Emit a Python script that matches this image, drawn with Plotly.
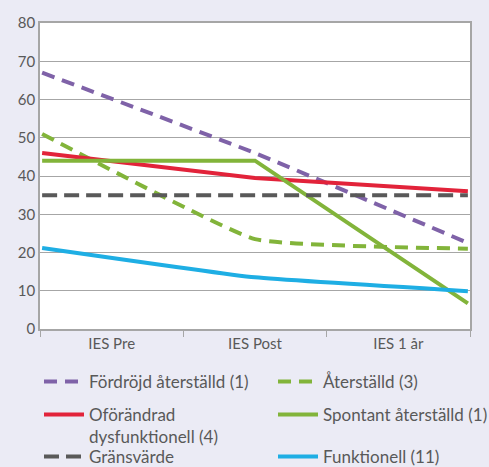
import plotly.graph_objects as go

# Time points and series values (score)
categories = ["IES Pre", "IES Post", "IES 1 år"]

fordrojd = [67, 46, 22.5]          # Fördröjd återställd (1)
aterstalld = [51, 23.5, 21]        # Återställd (3)
oforandrad = [46, 39.5, 36]        # Oförändrad dysfunktionell (4)
spontant = [44, 44, 6.7]           # Spontant återställd (1)
gransvarde = [35, 35, 35]          # Gränsvärde
funktionell = [21.2, 13.5, 9.9]    # Funktionell (11)

y_ticks = [0, 10, 20, 30, 40, 50, 60, 70, 80]

W, H = 489, 467
BG = "#ebebf5"
TEXT = "#595959"
GRID = "#a6a6a6"
FONT = "Lato"

# name, values, colour, dash, shape, legend slot (column, row)
series = [
    ("Fördröjd återställd (1)", fordrojd, "#7f62a8", "13px,8px", "spline", (0, 0)),
    ("Återställd (3)", aterstalld, "#82b43a", "13px,8px", "spline", (1, 0)),
    ("Oförändrad<br>dysfunktionell (4)", oforandrad, "#e2233a", "solid", "linear", (0, 1)),
    ("Spontant återställd (1)", spontant, "#82b43a", "solid", "linear", (1, 1)),
    ("Gränsvärde", gransvarde, "#595959", "15px,7px", "linear", (0, 2)),
    ("Funktionell (11)", funktionell, "#1eaee4", "solid", "spline", (1, 2)),
]

# legend grid (pixels from the top-left of the page)
col_x = [39, 273]
row_top = [364, 397, 439]

fig = go.Figure()

# Invisible trace so the category axis carries the labels
fig.add_trace(go.Scatter(x=categories, y=[None] * len(categories), xaxis="x",
                         showlegend=False, hoverinfo="skip", mode="lines"))

legends = {}
for i, (name, vals, color, dash, shape, (c, r)) in enumerate(series):
    key = "legend" if i == 0 else f"legend{i + 1}"
    fig.add_trace(go.Scatter(
        x=categories, y=vals, name=name, mode="lines", xaxis="x2",
        legend=key,
        line=dict(color=color, width=4, dash=dash, shape=shape, smoothing=0.35),
    ))
    legends[key] = dict(
        x=col_x[c] / W, xanchor="left", xref="container",
        y=1 - row_top[r] / H, yanchor="top", yref="container",
        valign="top", bgcolor="rgba(0,0,0,0)",
        font=dict(size=17, color=TEXT), itemwidth=40,
    )

fig.update_layout(
    width=W, height=H,
    paper_bgcolor=BG, plot_bgcolor="white",
    margin=dict(l=40, r=19, t=23, b=138, autoexpand=False),
    font=dict(family=FONT, size=15, color=TEXT),
    xaxis=dict(
        type="category", categoryarray=categories, range=[-0.5, 2.5],
        tickson="boundaries", ticks="outside", ticklen=6, tickcolor=GRID,
        showgrid=False, showline=True, linecolor=GRID, linewidth=1.5, mirror=True,
        tickfont=dict(size=15, color=TEXT),
    ),
    xaxis2=dict(
        type="category", categoryarray=categories, range=[-0.01, 2.01],
        overlaying="x", visible=False,
    ),
    yaxis=dict(
        range=[0, 80], tickvals=y_ticks, showgrid=True, gridcolor=GRID, gridwidth=1,
        showline=True, linecolor=GRID, linewidth=1.5, mirror=True,
        ticks="", tickfont=dict(size=15, color=TEXT), zeroline=False,
    ),
    **legends,
)

fig.write_html("out.html")
